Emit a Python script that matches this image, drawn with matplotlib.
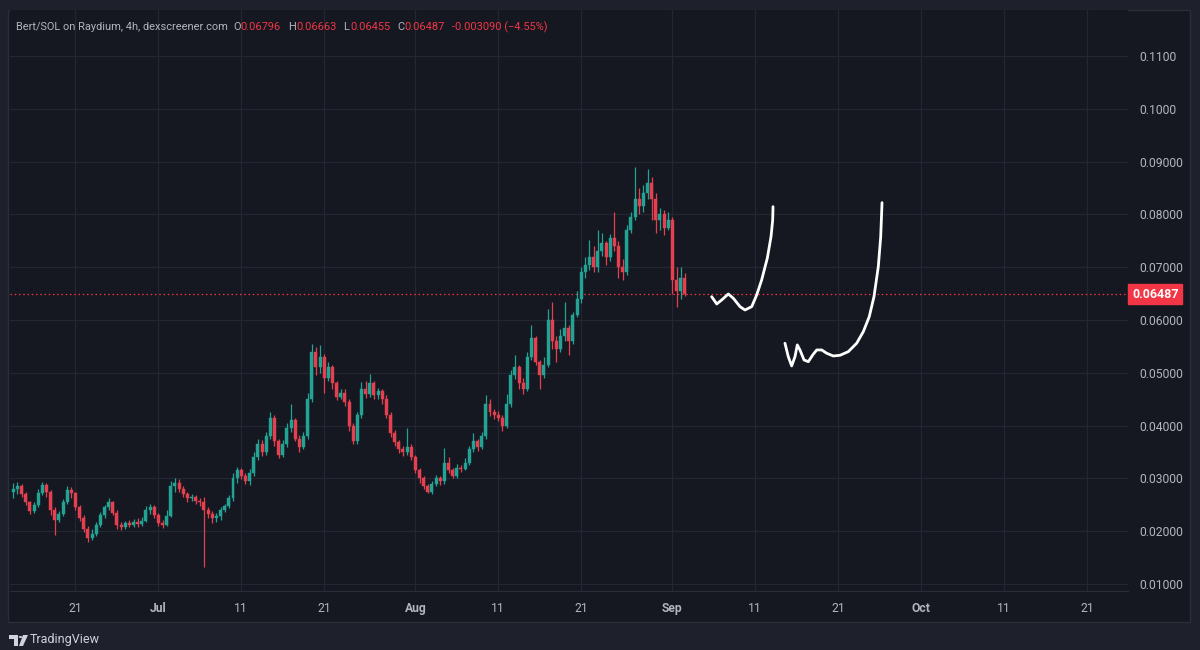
import numpy as np
import matplotlib
matplotlib.use("Agg")
import matplotlib.pyplot as plt
from matplotlib.patches import Rectangle, Polygon, Circle
import matplotlib.transforms as mtransforms

# ---------------- data (12h candles, x = days since Jun 1) ----------------
start_day = 12.5
step = 0.5
first_open = 0.0275
closes = [
    0.0280, 0.0285, 0.0270, 0.0255, 0.0238, 0.0250, 0.0272, 0.0288, 0.0275, 0.0240,
    0.0222, 0.0232, 0.0255, 0.0278, 0.0272, 0.0245, 0.0225, 0.0205, 0.0188, 0.0195,
    0.0212, 0.0230, 0.0245, 0.0255, 0.0235, 0.0212, 0.0208, 0.0215, 0.0212, 0.0218,
    0.0213, 0.0220, 0.0240, 0.0245, 0.0230, 0.0215, 0.0212, 0.0228, 0.0285, 0.0292,
    0.0280, 0.0270, 0.0262, 0.0265, 0.0258, 0.0255, 0.0240, 0.0232, 0.0225, 0.0228,
    0.0240, 0.0248, 0.0262, 0.0300, 0.0315, 0.0305, 0.0295, 0.0310, 0.0340, 0.0365,
    0.0350, 0.0380, 0.0415, 0.0370, 0.0345, 0.0365, 0.0395, 0.0410, 0.0375, 0.0360,
    0.0380, 0.0450, 0.0540, 0.0510, 0.0530, 0.0490, 0.0510, 0.0480, 0.0455, 0.0462,
    0.0445, 0.0400, 0.0370, 0.0420, 0.0470, 0.0460, 0.0480, 0.0458, 0.0465, 0.0450,
    0.0420, 0.0385, 0.0368, 0.0355, 0.0350, 0.0360, 0.0340, 0.0315, 0.0300, 0.0285,
    0.0275, 0.0290, 0.0300, 0.0295, 0.0330, 0.0315, 0.0305, 0.0320, 0.0318, 0.0330,
    0.0355, 0.0370, 0.0360, 0.0380, 0.0440, 0.0425, 0.0420, 0.0415, 0.0400, 0.0440,
    0.0495, 0.0510, 0.0480, 0.0470, 0.0530, 0.0565, 0.0520, 0.0495, 0.0515, 0.0600,
    0.0560, 0.0545, 0.0570, 0.0585, 0.0560, 0.0610, 0.0640, 0.0690, 0.0705, 0.0720,
    0.0700, 0.0730, 0.0745, 0.0720, 0.0755, 0.0740, 0.0700, 0.0690, 0.0770, 0.0795,
    0.0830, 0.0815, 0.0840, 0.0860, 0.0830, 0.0790, 0.0800, 0.0775, 0.0790, 0.0675,
    0.0655, 0.0680, 0.0649,
]
highs = [
    0.0292, 0.0293, 0.0290, 0.0274, 0.0258, 0.0256, 0.0280, 0.0293, 0.0291, 0.0278,
    0.0245, 0.0238, 0.0260, 0.0285, 0.0284, 0.0275, 0.0250, 0.0230, 0.0210, 0.0205,
    0.0218, 0.0236, 0.0250, 0.0262, 0.0258, 0.0240, 0.0218, 0.0220, 0.0222, 0.0224,
    0.0225, 0.0226, 0.0248, 0.0252, 0.0250, 0.0235, 0.0222, 0.0240, 0.0295, 0.0300,
    0.0298, 0.0285, 0.0275, 0.0270, 0.0268, 0.0262, 0.0265, 0.0245, 0.0238, 0.0235,
    0.0245, 0.0252, 0.0268, 0.0310, 0.0322, 0.0320, 0.0310, 0.0318, 0.0350, 0.0375,
    0.0372, 0.0388, 0.0426, 0.0420, 0.0375, 0.0372, 0.0405, 0.0440, 0.0415, 0.0382,
    0.0388, 0.0462, 0.0555, 0.0548, 0.0553, 0.0535, 0.0520, 0.0515, 0.0485, 0.0470,
    0.0470, 0.0450, 0.0405, 0.0425, 0.0482, 0.0485, 0.0498, 0.0485, 0.0472, 0.0470,
    0.0458, 0.0425, 0.0392, 0.0372, 0.0362, 0.0395, 0.0365, 0.0345, 0.0320, 0.0305,
    0.0290, 0.0295, 0.0306, 0.0305, 0.0357, 0.0340, 0.0320, 0.0328, 0.0325, 0.0338,
    0.0362, 0.0385, 0.0375, 0.0388, 0.0457, 0.0450, 0.0432, 0.0428, 0.0420, 0.0460,
    0.0505, 0.0533, 0.0515, 0.0490, 0.0540, 0.0590, 0.0570, 0.0525, 0.0530, 0.0620,
    0.0634, 0.0570, 0.0582, 0.0634, 0.0590, 0.0615, 0.0655, 0.0700, 0.0720, 0.0752,
    0.0740, 0.0770, 0.0765, 0.0750, 0.0762, 0.0804, 0.0750, 0.0715, 0.0780, 0.0805,
    0.0890, 0.0850, 0.0855, 0.0886, 0.0870, 0.0840, 0.0812, 0.0808, 0.0805, 0.0795,
    0.0700, 0.0700, 0.0688,
]
lows = [
    0.0262, 0.0270, 0.0265, 0.0250, 0.0232, 0.0234, 0.0246, 0.0268, 0.0265, 0.0230,
    0.0192, 0.0218, 0.0228, 0.0252, 0.0262, 0.0240, 0.0220, 0.0198, 0.0180, 0.0183,
    0.0190, 0.0208, 0.0225, 0.0240, 0.0230, 0.0205, 0.0203, 0.0205, 0.0207, 0.0208,
    0.0208, 0.0210, 0.0217, 0.0232, 0.0225, 0.0210, 0.0206, 0.0210, 0.0226, 0.0275,
    0.0275, 0.0265, 0.0256, 0.0258, 0.0252, 0.0248, 0.0132, 0.0225, 0.0215, 0.0218,
    0.0222, 0.0236, 0.0244, 0.0258, 0.0292, 0.0298, 0.0290, 0.0288, 0.0305, 0.0335,
    0.0342, 0.0345, 0.0375, 0.0362, 0.0338, 0.0340, 0.0360, 0.0388, 0.0370, 0.0350,
    0.0355, 0.0375, 0.0445, 0.0495, 0.0500, 0.0462, 0.0485, 0.0470, 0.0448, 0.0450,
    0.0438, 0.0390, 0.0365, 0.0365, 0.0415, 0.0452, 0.0455, 0.0450, 0.0450, 0.0440,
    0.0415, 0.0378, 0.0362, 0.0348, 0.0342, 0.0345, 0.0335, 0.0310, 0.0292, 0.0280,
    0.0272, 0.0270, 0.0285, 0.0288, 0.0290, 0.0310, 0.0300, 0.0300, 0.0312, 0.0315,
    0.0325, 0.0350, 0.0352, 0.0355, 0.0375, 0.0418, 0.0412, 0.0408, 0.0390, 0.0395,
    0.0435, 0.0488, 0.0470, 0.0460, 0.0465, 0.0525, 0.0515, 0.0470, 0.0490, 0.0510,
    0.0545, 0.0520, 0.0540, 0.0560, 0.0533, 0.0555, 0.0605, 0.0632, 0.0680, 0.0695,
    0.0690, 0.0690, 0.0722, 0.0705, 0.0712, 0.0730, 0.0680, 0.0675, 0.0685, 0.0765,
    0.0790, 0.0800, 0.0805, 0.0830, 0.0790, 0.0765, 0.0770, 0.0760, 0.0770, 0.0650,
    0.0624, 0.0640, 0.0645,
]
last_price = 0.06487
last_label = "0.06487"

price_ticks = [0.01, 0.02, 0.03, 0.04, 0.05, 0.06, 0.07, 0.08, 0.09, 0.10, 0.11]
price_tick_labels = ["0.01000", "0.02000", "0.03000", "0.04000", "0.05000", "0.06000",
                     "0.07000", "0.08000", "0.09000", "0.1000", "0.1100"]
date_ticks = [20, 30, 40, 50, 61, 71, 81, 92, 102, 112, 122, 132, 142]
date_tick_labels = ["21", "Jul", "11", "21", "Aug", "11", "21", "Sep", "11", "21", "Oct", "11", "21"]

# hand-drawn scribbles (day, price)
scribble1_x = [96.74, 97.35, 97.95, 98.75, 99.35, 100.16, 100.76, 101.57, 102.17, 102.77,
               103.45, 103.90, 104.10, 104.14]
scribble1_y = [0.06441, 0.06303, 0.06379, 0.06492, 0.06411, 0.06252, 0.06189, 0.06252,
               0.06473, 0.06758, 0.07169, 0.07578, 0.07894, 0.08146]
scribble2_x = [105.58, 105.98, 106.39, 106.79, 107.07, 107.39, 107.88, 108.40, 108.93,
               109.41, 110.01, 110.62, 111.41, 112.22, 113.22, 114.23, 115.03, 115.75,
               116.32, 116.84, 117.13, 117.29]
scribble2_y = [0.05559, 0.05305, 0.05129, 0.05305, 0.05527, 0.05432, 0.05242, 0.05210,
               0.05337, 0.05432, 0.05432, 0.05369, 0.05318, 0.05331, 0.05400, 0.05559,
               0.05778, 0.06063, 0.06441, 0.07010, 0.07578, 0.08222]

header_main = "Bert/SOL on Raydium, 4h, dexscreener.com"
header_ohlc = [("O", "0.06796"), ("H", "0.06663"), ("L", "0.06455"), ("C", "0.06487")]
header_change = "-0.003090 (\u22124.55%)"

# ---------------- style ----------------
OUTER = "#1e212b"
PANEL = "#151821"
GRID = "#232732"
TEXT = "#b2b5be"
UP = "#22a394"
DOWN = "#e5404f"
RED = "#f23645"
FONT = ["Roboto", "DejaVu Sans"]
plt.rcParams["font.family"] = FONT

W, H = 1200, 650
fig = plt.figure(figsize=(12, 6.5), dpi=100, facecolor=OUTER)

def fx(px):
    return px / W

def fy(py):
    return 1 - py / H

# panel (behind the axes)
fig.patches.append(Rectangle((fx(8), fy(622)), fx(1190) - fx(8), fy(10) - fy(622),
                             transform=fig.transFigure, facecolor=PANEL,
                             edgecolor="#2a2e39", lw=1, zorder=-10))

ax = fig.add_axes([fx(10), fy(591), fx(1128) - fx(10), fy(10) - fy(591)])
ax.set_zorder(1)
ax.set_facecolor(PANEL)
ax.set_xlim(12.10, 146.96)
ax.set_ylim(0.00867, 0.1187)

for s in ["top", "left", "right"]:
    ax.spines[s].set_visible(False)
ax.spines["bottom"].set_color("#2a2e39")

ax.set_yticks(price_ticks)
ax.set_yticklabels(price_tick_labels)
ax.yaxis.tick_right()
ax.tick_params(axis="y", length=0, pad=8, labelsize=8.7, labelcolor=TEXT)
ax.set_xticks(date_ticks)
ax.set_xticklabels(date_tick_labels)
ax.tick_params(axis="x", length=0, pad=8, labelsize=8.7, labelcolor=TEXT)
for lbl in ax.get_xticklabels():
    if lbl.get_text() in ("Jul", "Aug", "Sep", "Oct"):
        lbl.set_fontweight("bold")
ax.grid(True, color=GRID, lw=0.9)
ax.set_axisbelow(True)

# candles
closes_a = np.array(closes)
opens_a = np.concatenate([[first_open], closes_a[:-1]])
times = start_day + step * np.arange(len(closes_a))
up = closes_a >= opens_a
colors = np.where(up, UP, DOWN)
ax.vlines(times, lows, highs, colors=colors, lw=0.9, zorder=3)
ax.bar(times, np.maximum(np.abs(closes_a - opens_a), 0.00008),
       bottom=np.minimum(opens_a, closes_a), width=0.36, color=colors,
       edgecolor=colors, linewidth=0.3, zorder=4)

# last price line
ax.axhline(last_price, color=RED, lw=0.9, ls=(0, (1.2, 2.2)), zorder=2)
trans = mtransforms.blended_transform_factory(ax.transAxes, ax.transData)
ax.text(1.0 + 4 / 1118, last_price, last_label, transform=trans, ha="left", va="center",
        color="white", fontsize=8.9, fontweight="bold", zorder=10, clip_on=False,
        bbox=dict(boxstyle="square,pad=0.3", facecolor=RED, edgecolor=RED))

# scribbles
ax.plot(scribble1_x, scribble1_y, color="white", lw=2.0, solid_capstyle="round",
        solid_joinstyle="round", zorder=6)
ax.plot(scribble2_x, scribble2_y, color="white", lw=2.0, solid_capstyle="round",
        solid_joinstyle="round", zorder=6)

# header: pieces laid out one after another
renderer = fig.canvas.get_renderer()
hy = fy(27)
HFS = 7.9
cursor = 16.0

def put(txt, color, gap_after):
    global cursor
    t = fig.text(fx(cursor), hy, txt, color=color, fontsize=HFS, va="center", ha="left")
    bb = t.get_window_extent(renderer=renderer)
    cursor += bb.width + gap_after

put(header_main, TEXT, 5)
for k, v in header_ohlc:
    put(k, TEXT, 0.5)
    put(v, RED, 7)
put(header_change, RED, 0)

# TradingView logo
LOGO = "#d1d4dc"
fig.patches.append(Polygon([(fx(9), fy(635)), (fx(18), fy(635)), (fx(18), fy(646)),
                            (fx(14), fy(646)), (fx(14), fy(639)), (fx(9), fy(639))],
                           closed=True, transform=fig.transFigure, facecolor=LOGO, lw=0))
fig.patches.append(Circle((fx(20.5), fy(637)), 1.8 / W, transform=fig.transFigure,
                          facecolor=LOGO, lw=0))
fig.patches.append(Polygon([(fx(23), fy(635)), (fx(28), fy(635)), (fx(23), fy(646)),
                            (fx(19), fy(646))],
                           closed=True, transform=fig.transFigure, facecolor=LOGO, lw=0))
fig.text(fx(30), fy(640), "TradingView", color=LOGO, fontsize=9, va="center", ha="left")

fig.savefig("out.png", dpi=100, facecolor=OUTER)
